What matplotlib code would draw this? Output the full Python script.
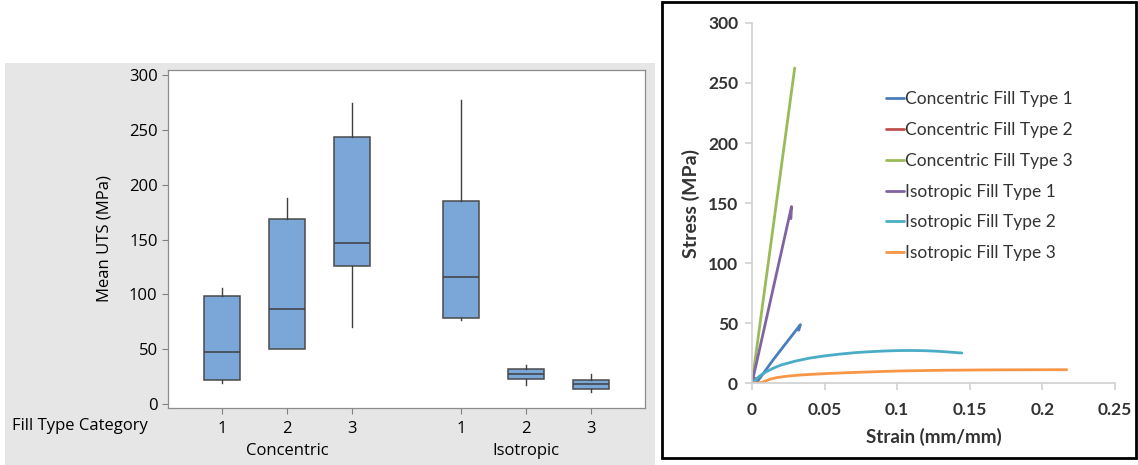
import matplotlib

matplotlib.use("Agg")
import matplotlib.pyplot as plt
from matplotlib.patches import Rectangle
from matplotlib.transforms import blended_transform_factory

# ---- left panel: boxplot of mean UTS ----
box_groups = ["Concentric", "Concentric", "Concentric", "Isotropic", "Isotropic", "Isotropic"]
box_labels = ["1", "2", "3", "1", "2", "3"]
box_pos = [1, 2, 3, 4.68, 5.68, 6.68]
whis_lo = [18.8, 49.5, 70.5, 76.9, 16.7, 10.6]
q1 = [21.3, 49.5, 125.8, 78.4, 22.2, 13.7]
med = [47.0, 86.3, 147.0, 115.5, 27.0, 18.2]
q3 = [98.8, 168.4, 243.5, 185.4, 31.6, 21.3]
whis_hi = [105.5, 188.4, 275.0, 277.5, 35.0, 27.4]
uts_ticks = [0, 50, 100, 150, 200, 250, 300]

# ---- right panel: stress-strain curves ----
series_names = [
    "Concentric Fill Type 1",
    "Concentric Fill Type 2",
    "Concentric Fill Type 3",
    "Isotropic Fill Type 1",
    "Isotropic Fill Type 2",
    "Isotropic Fill Type 3",
]
series_colors = ["#4A7EBB", "#C0504D", "#9BBB59", "#8064A2", "#4BACC6", "#F79646"]
strain = [
    [0.0, 0.003, 0.015, 0.0333, 0.0322],
    [0.0, 0.001, 0.002],
    [0.0, 0.0294],
    [0.0, 0.0272, 0.0268],
    [0.0, 0.003, 0.006, 0.01, 0.015, 0.02, 0.03, 0.04, 0.05, 0.06, 0.07, 0.08,
     0.09, 0.1, 0.11, 0.12, 0.13, 0.1445],
    [0.0, 0.005, 0.008, 0.012, 0.017, 0.025, 0.035, 0.05, 0.07, 0.1, 0.13, 0.16, 0.2167],
]
stress = [
    [0.0, 0.0, 20.0, 48.6, 44.0],
    [0.0, 2.0, 4.0],
    [0.0, 262.5],
    [0.0, 147.0, 137.0],
    [0.0, 3.5, 6.5, 9.5, 12.5, 15.0, 18.3, 20.8, 22.6, 24.0, 25.2, 26.0,
     26.6, 27.0, 27.1, 26.9, 26.3, 25.0],
    [0.0, 0.0, 1.0, 3.0, 4.5, 5.8, 6.8, 7.8, 8.8, 10.0, 10.6, 10.9, 11.1],
]
strain_ticks = [0, 0.05, 0.1, 0.15, 0.2, 0.25]
strain_labels = ["0", "0.05", "0.1", "0.15", "0.2", "0.25"]
stress_ticks = [0, 50, 100, 150, 200, 250, 300]

W, H = 1138, 465
fig = plt.figure(figsize=(W / 100, H / 100), dpi=100)


def fx(px):
    return px / W


def fy(py):
    return 1 - py / H


# gray minitab background
fig.patches.append(Rectangle((fx(5), 0), fx(655) - fx(5), fy(63), transform=fig.transFigure,
                             facecolor="#E6E6E6", edgecolor="none", zorder=-2))
# black frame round the excel chart
fig.patches.append(Rectangle((fx(662), fy(458)), fx(1136) - fx(662), fy(2) - fy(458),
                             transform=fig.transFigure, facecolor="white",
                             edgecolor="black", linewidth=2, zorder=-2))

left_font = "Open Sans"
lfs = 12
ax1 = fig.add_axes([fx(168), fy(408), fx(645) - fx(168), fy(70) - fy(408)])
stats = [
    dict(whislo=a, q1=b, med=c, q3=d, whishi=e, fliers=[])
    for a, b, c, d, e in zip(whis_lo, q1, med, q3, whis_hi)
]
ax1.bxp(stats, positions=box_pos, widths=0.55, patch_artist=True, showcaps=False,
        boxprops=dict(facecolor="#7BA6D8", edgecolor="#4A4A4A", linewidth=1.1),
        medianprops=dict(color="#404040", linewidth=1.1),
        whiskerprops=dict(color="#404040", linewidth=1.0))
ax1.set_xlim(0.17, 7.51)
ax1.set_ylim(-4, 305)
ax1.set_yticks(uts_ticks)
ax1.set_yticklabels([str(t) for t in uts_ticks], fontfamily=left_font, fontsize=lfs)
ax1.set_xticks(box_pos)
ax1.set_xticklabels(box_labels, fontfamily=left_font, fontsize=lfs)
ax1.tick_params(axis="both", colors="#7F7F7F", labelcolor="black", length=4, width=0.8)
ax1.tick_params(axis="x", pad=5)
for s in ax1.spines.values():
    s.set_color("#8C8C8C")
    s.set_linewidth(0.9)
ax1.set_ylabel("Mean UTS (MPa)", fontfamily=left_font, fontsize=lfs, labelpad=12)

trans = blended_transform_factory(ax1.transData, fig.transFigure)
for name in dict.fromkeys(box_groups):
    xs = [p for p, g in zip(box_pos, box_groups) if g == name]
    ax1.text(sum(xs) / len(xs), fy(451), name, transform=trans, ha="center", va="center",
             fontfamily=left_font, fontsize=lfs)
fig.text(fx(12), fy(426), "Fill Type Category", ha="left", va="center",
         fontfamily=left_font, fontsize=lfs)

# excel chart
xl_font = "Lato"
ax2 = fig.add_axes([fx(752), fy(383), fx(1115) - fx(752), fy(23) - fy(383)])
for xs, ys, name, col in zip(strain, stress, series_names, series_colors):
    ax2.plot(xs, ys, color=col, linewidth=2.0, label=name, solid_capstyle="round")
ax2.set_xlim(0, 0.25)
ax2.set_ylim(0, 300)
ax2.set_xticks(strain_ticks)
ax2.set_xticklabels(strain_labels)
ax2.set_yticks(stress_ticks)
for lab in ax2.get_xticklabels() + ax2.get_yticklabels():
    lab.set_fontfamily(xl_font)
    lab.set_fontweight("bold")
    lab.set_fontsize(12.5)
    lab.set_color("#333333")
ax2.tick_params(axis="both", colors="#D0D0D0", labelcolor="#333333", length=5, width=1.2)
ax2.tick_params(axis="x", pad=9)
ax2.tick_params(axis="y", pad=5)
for side in ["top", "right"]:
    ax2.spines[side].set_visible(False)
for side in ["left", "bottom"]:
    ax2.spines[side].set_color("#D0D0D0")
    ax2.spines[side].set_linewidth(1.2)
ax2.set_xlabel("Strain (mm/mm)", fontfamily=xl_font, fontweight="bold", fontsize=13.5,
               color="#333333", labelpad=7)
ax2.set_ylabel("Stress (MPa)", fontfamily=xl_font, fontweight="bold", fontsize=14,
               color="#333333", labelpad=6)
leg = ax2.legend(loc="upper left", bbox_to_anchor=(0.37, 0.81), frameon=False,
                 prop=dict(family=xl_font, size=12.5), handlelength=1.0, handletextpad=0.1,
                 labelspacing=0.85, borderaxespad=0, borderpad=0)
for t in leg.get_texts():
    t.set_color("#333333")

fig.savefig("out.png", dpi=100)
